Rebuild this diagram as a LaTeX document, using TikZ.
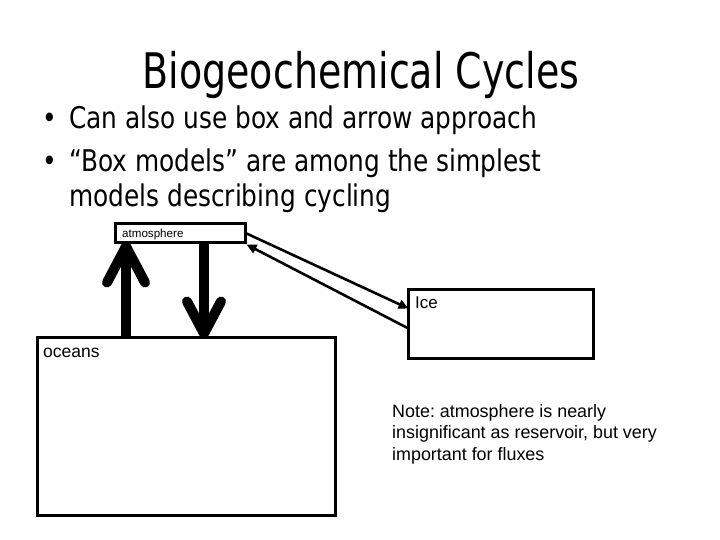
\documentclass[tikz,border=0pt]{standalone}
\usepackage{fontspec}
\setmainfont{Liberation Sans}
\newfontfamily\titlefont[FakeStretch=0.775]{DejaVu Sans}
\newfontfamily\bulletfont[FakeStretch=0.83]{DejaVu Sans}
\usetikzlibrary{arrows.meta,calc}
\frenchspacing
\tikzset{
  box/.style={draw=black, line width=3pt, fill=white, inner sep=0pt, outer sep=0pt},
  fat/.style={draw=black, line width=10pt},
  fathead/.style={draw=black, line width=10pt, line cap=round, line join=round},
  thin/.style={draw=black, line width=2.6pt, -{Triangle[length=10pt,width=9pt]}},
  label/.style={inner sep=0pt, anchor=base west},
  notetext/.style={inner sep=0pt, anchor=base west, font=\fontsize{17.9}{21.5}\selectfont},
  heading/.style={inner sep=0pt, anchor=base, font=\titlefont\fontsize{49}{55}\selectfont},
  bullettext/.style={inner sep=0pt, anchor=base west, font=\bulletfont\fontsize{29.9}{36}\selectfont},
}
\begin{document}
\begin{tikzpicture}[x=1pt,y=-1pt]
\useasboundingbox[fill=white] (0,0) rectangle (720,540);
% title and bullets
\node[heading] (title) at (361,89) {Biogeochemical Cycles};
\node[bullettext] (b1dot) at (42,129) {•};
\node[bullettext] (b1) at (69,129) {Can also use box and arrow approach};
\node[bullettext] (b2dot) at (42,172) {•};
\node[bullettext] (b2) at (69,172) {“Box models” are among the simplest};
\node[bullettext] (b3) at (69,207) {models describing cycling};
% boxes
\node[box, minimum width=130pt, minimum height=19pt, anchor=north west] (atm) at (115.5,223.5) {};
\node[box, minimum width=185pt, minimum height=69pt, anchor=north west] (ice) at (408.5,289.5) {};
\node[box, minimum width=298pt, minimum height=178pt, anchor=north west] (oceans) at (37.5,337.5) {};
% box labels
\node[label, font=\fontsize{11.6}{14}\selectfont] (atmlbl) at ($(atm.north west)+(6.5,13.5)$) {atmosphere};
\node[label, font=\fontsize{17}{20}\selectfont] (icelbl) at ($(ice.north west)+(6.5,18.5)$) {Ice};
\node[label, font=\fontsize{17.5}{20}\selectfont] (oceanslbl) at ($(oceans.north west)+(5.5,19.5)$) {oceans};
% note
\node[notetext] (note1) at (392,417) {Note: atmosphere is nearly};
\node[notetext] (note2) at (392,438.5) {insignificant as reservoir, but very};
\node[notetext] (note3) at (392,460) {important for fluxes};
% thick arrows
\coordinate (upx) at (126,0);
\coordinate (downx) at (204,0);
\coordinate (uptip) at (atm.south -| upx);
\coordinate (downtip) at (oceans.north -| downx);
\draw[fat] (oceans.north -| upx) -- ($(uptip)+(0,9)$);
\draw[fathead] ($(uptip)+(-19,40)$) -- ($(uptip)+(0,4)$) -- ($(uptip)+(19,40)$);
\draw[fat] (atm.south -| downx) -- ($(downtip)+(0,-9)$);
\draw[fathead] ($(downtip)+(-17,-36)$) -- ($(downtip)+(0,-4)$) -- ($(downtip)+(17,-36)$);
% thin arrows
\coordinate (iceIn) at ($(ice.north west)+(0,19)$);
\coordinate (iceOut) at ($(ice.north west)+(0,39)$);
\draw[thin] (atm.east) -- (iceIn);
\draw[thin] (iceOut) -- ($(atm.south east)+(1,2)$);
\end{tikzpicture}
\end{document}
